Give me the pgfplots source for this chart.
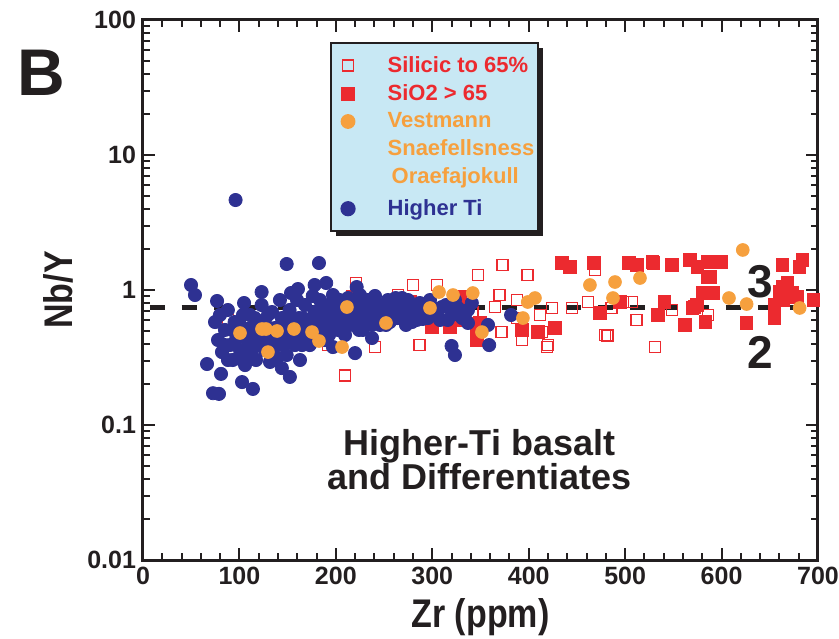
\documentclass[border=0pt]{standalone}
\usepackage{fontspec}
\setmainfont{Liberation Sans}
\newfontfamily\condfont[FakeStretch=0.85]{Liberation Sans}
\usepackage{pgfplots}
\pgfplotsset{compat=1.18}
\usetikzlibrary{shadows}
\definecolor{cblue}{HTML}{2E3192}
\definecolor{corange}{HTML}{F6A03E}
\definecolor{cred}{HTML}{EC2A2F}
\definecolor{legbg}{HTML}{C8E8F4}
\definecolor{ink}{HTML}{231F20}
\begin{document}
\begin{tikzpicture}
\useasboundingbox (-71.5pt,-39pt) rectangle (348pt,280pt);
\begin{axis}[
  scale only axis, width=337.5pt, height=270pt,
  at={(0pt,0pt)}, anchor=south west,
  xmin=0, xmax=700, ymode=log, ymin=0.01, ymax=100,
  xtick={0,100,200,300,400,500,600,700}, minor x tick num=4,
  ytick={0.01,0.1,1,10,100}, yticklabels={0.01,0.1,1,10,100},
  tick align=inside, major tick length=6pt, minor tick length=3.5pt,
  axis line style={line width=1.5pt, ink},
  every tick/.style={line width=1pt, ink},
  tick label style={font=\bfseries\fontsize{12.5}{14}\selectfont, text=ink},
  /pgf/number format/assume math mode=true,
  xlabel={Zr (ppm)}, ylabel={Nb/Y},
  label style={font=\condfont\bfseries\fontsize{20}{22}\selectfont, text=ink},
  legend style={at={(0.277,0.959)}, anchor=north west, fill=legbg, draw=ink,
    line width=1pt, inner xsep=0pt, inner ysep=4.5pt,
    drop shadow={shadow xshift=2.5pt, shadow yshift=-2.5pt, fill=ink, opacity=1},
    font=\bfseries\fontsize{11}{13}\selectfont, row sep=0.6pt, column sep=14.5pt,
    cells={anchor=west}},
  legend cell align=left,
]
% legend
\addlegendimage{only marks, mark=square, mark size=2.75pt, mark options={draw=cred, fill=white, line width=0.8pt}}
\addlegendentry{\textcolor{cred}{Silicic to 65\%}}
\addlegendimage{only marks, mark=square*, mark size=3.1pt, mark options={draw=cred, fill=cred}}
\addlegendentry{\textcolor{cred}{SiO2 {\textgreater} 65}}
\addlegendimage{only marks, mark=*, mark size=3.2pt, mark options={draw=corange, fill=corange}}
\addlegendentry{\textcolor{corange}{Vestmann}}
\addlegendimage{empty legend}
\addlegendentry{\textcolor{corange}{Snaefellsness}}
\addlegendimage{empty legend}
\addlegendentry[yshift=3pt]{\textcolor{corange}{\hspace{2pt}Oraefajokull}}
\addlegendimage{empty legend}
\addlegendentry[inner sep=0pt, text height=0.8pt, text depth=0pt]{}
\addlegendimage{only marks, mark=*, mark size=3.3pt, mark options={draw=cblue, fill=cblue}}
\addlegendentry{\textcolor{cblue}{Higher Ti}}

% Silicic to 65% (open squares)
\addplot[only marks, mark=square, mark size=2.75pt, mark options={draw=cred, fill=white, line width=0.8pt}, forget plot] coordinates {
(280,1.089) (305,1.089) (373,1.53) (347.4,1.29) (399,1.29) (264.4,0.918) (370,0.918)
(387.8,0.843) (424,0.736) (445,0.736) (461.5,0.815) (497.8,0.815) (512,0.600)
(323.5,0.600) (342,0.687) (372,0.488) (287,0.391) (240.6,0.378) (393,0.426)
(420,0.391) (413.8,0.488) (479,0.464) (482,0.46) (387.8,0.620) (221,1.127)
(134.8,0.314) (209.5,0.232) (191.8,0.391) (88,0.600) (507,0.815) (548.6,0.711)
(586,0.653) (531,0.378) (468.7,1.41) (486,0.736) (365,0.748) (411.7,0.653) (419,0.378)
};
% SiO2 > 65 (filled squares)
\addplot[only marks, mark=square*, mark size=3.1pt, mark options={draw=cred, fill=cred}, forget plot] coordinates {
(277,0.815) (328.7,0.889) (299.7,0.532) (318.4,0.532) (326.7,0.600) (349.5,0.570)
(346.4,0.426) (346.4,0.506) (393,0.506) (409.6,0.488) (427,0.523) (474,0.675) (494.6,0.815)
(434.5,1.585) (442.8,1.48) (467.7,1.585) (504,1.585) (512,1.53) (528,1.61) (529,1.585)
(548.6,1.53) (567,1.67) (575,1.48) (585,1.61) (595,1.61) (600,1.61) (586,1.25) (588,1.25)
(583,0.95) (591,0.95) (580,0.95) (541,0.815) (534,0.653) (562,0.551) (572,0.748)
(570,0.736) (574.5,0.774) (583,0.579) (626,0.570) (655,0.620) (655,0.774) (663,1.53)
(681,1.48) (684,1.67) (663,1.052) (668,1.127) (673,0.950) (678,0.889) (695,0.843)
(664,0.843) (660.6,0.966) (217.8,0.889)
};
% Higher Ti (blue)
\addplot[only marks, mark=*, mark size=3.3pt, mark options={draw=cblue, fill=cblue}, forget plot] coordinates {
(74.7,0.579) (77.8,0.426) (81.9,0.347) (85,0.506) (88,0.711) (90,0.391) (93,0.303)
(95,0.579) (98.5,0.464) (100.6,0.359) (103.7,0.653) (105.8,0.278) (108.9,0.426)
(111,0.523) (113,0.330) (116,0.620) (119,0.391) (121,0.464)
(123,0.774) (126.5,0.600) (126.5,0.359) (129.6,0.441) (131.7,0.293) (133.8,0.687)
(136.9,0.523) (140,0.391) (142,0.843) (144,0.620) (147,0.464) (149,0.330) (152,0.711)
(154.5,0.551) (157.6,0.391) (159.7,0.843) (161.8,0.620) (162.8,0.303) (165,0.506)
(168,0.774) (171,0.600) (173,0.391) (176,0.903) (178,0.687) (181,0.506) (183.5,0.843)
(186.7,0.620) (188.7,0.426) (191.8,0.774) (194,0.579) (197,0.918) (199,0.687)
(202,0.506) (204,0.843) (207,0.620) (209.5,0.464) (212.6,0.872) (214.7,0.687)
(217.8,0.551) (221,0.774) (223,0.620) (225,0.918) (228,0.506) (230,0.711) (233,0.843)
(235,0.600) (238.5,0.736) (240.6,0.903) (243.7,0.653) (245.8,0.551) (249,0.774)
(251,0.653) (254,0.843) (256,0.579) (259,0.711) (262,0.872) (264,0.620) (266.5,0.774)
(269.6,0.687) (272.7,0.551) (274.8,0.843) (278,0.653) (281,0.736) (284,0.600)
(287,0.801) (292,0.687) (297.6,0.843) (305,0.653) (310,0.748) (316,0.600) (323.5,0.843)
(331,0.620) (337,0.711)
(79.8,0.653) (85.0,0.391) (88.1,0.303) (92.3,0.506) (96.4,0.426) (100.6,0.551)
(102.7,0.303) (106.9,0.359) (111.0,0.653) (114.1,0.426) (117.2,0.303) (119.3,0.551)
(123.4,0.391) (126.5,0.464) (129.6,0.653) (131.7,0.359) (135.8,0.426) (138.9,0.314)
(142.1,0.506) (145.2,0.391) (148.3,0.600) (151.4,0.426) (155.6,0.464) (158.7,0.600)
(162.8,0.426) (165.9,0.620) (169.0,0.464) (172.1,0.551) (175.3,0.426) (179.4,0.579)
(182.5,0.711) (185.6,0.506) (189.8,0.653) (192.9,0.464) (196.0,0.774) (200.1,0.579)
(203.3,0.687) (206.4,0.506) (210.5,0.711) (213.6,0.579) (216.7,0.843) (219.8,0.653)
(224.0,0.506) (227.1,0.774) (231.3,0.600) (234.4,0.687) (237.5,0.551) (241.6,0.774)
(244.7,0.600) (247.8,0.687) (252.0,0.551) (255.1,0.711) (258.2,0.620) (261.3,0.774)
(265.5,0.687) (268.6,0.872) (271.7,0.620) (275.8,0.736) (278.9,0.579) (283.1,0.711)
(286.2,0.653) (290.4,0.774) (295.5,0.620) (300.7,0.736) (308.0,0.600) (314.2,0.774)
(320.4,0.653) (326.7,0.736) (333.9,0.620)
(96,4.64) (49.8,1.089) (53.9,0.918) (76.8,0.829) (149,1.558) (182.5,1.585) (190,1.127)
(178,1.089) (160.7,1.017) (153.5,0.950) (221.6,1.052) (66.4,0.283) (80.9,0.239)
(72.6,0.172) (78.8,0.170) (102.7,0.208) (114,0.185) (144,0.264) (152.3,0.227)
(219.9,0.341) (237.5,0.441) (197,0.378) (251,0.675) (290,0.610) (320,0.385)
(323.5,0.330) (337,0.570) (359,0.391) (381.7,0.653) (357.8,0.551) (341,0.801)
(164.9,0.391) (104.8,0.801) (123,0.966)
};
% Vestmann / Snaefellsness / Oraefajokull (orange)
\addplot[only marks, mark=*, mark size=3.2pt, mark options={draw=corange, fill=corange}, forget plot] coordinates {
(100.6,0.48) (123.4,0.514) (127.5,0.514) (139,0.497) (156.6,0.514) (175.3,0.488)
(129.6,0.347) (182.5,0.419) (206.4,0.378) (211.5,0.748) (252,0.570) (307,0.966)
(321.5,0.918) (342,0.950) (297.6,0.736) (351.5,0.488) (399,0.815) (406.5,0.872)
(394,0.620) (463.5,1.089) (489.5,1.146) (515.4,1.227) (487.4,0.872) (622,1.98)
(607.7,0.872) (626,0.787) (681,0.736)
};
% boundary 2/3
\addplot[ink, line width=2.5pt, dash pattern=on 7.5pt off 8.5pt, forget plot] coordinates {(7,0.736) (695,0.736)};
\node[text=ink, font=\bfseries\fontsize{23}{26}\selectfont] at (axis cs:640,1.15) {3};
\node[text=ink, font=\bfseries\fontsize{23}{26}\selectfont] at (axis cs:640,0.347) {2};
\node[text=ink, font=\bfseries\fontsize{18}{17}\selectfont, align=center] at (axis cs:349,0.055) {Higher-Ti basalt\\and Differentiates};
\end{axis}
\node[text=ink, font=\bfseries\fontsize{33}{36}\selectfont] at (-51pt,243.5pt) {B};
\end{tikzpicture}
\end{document}
